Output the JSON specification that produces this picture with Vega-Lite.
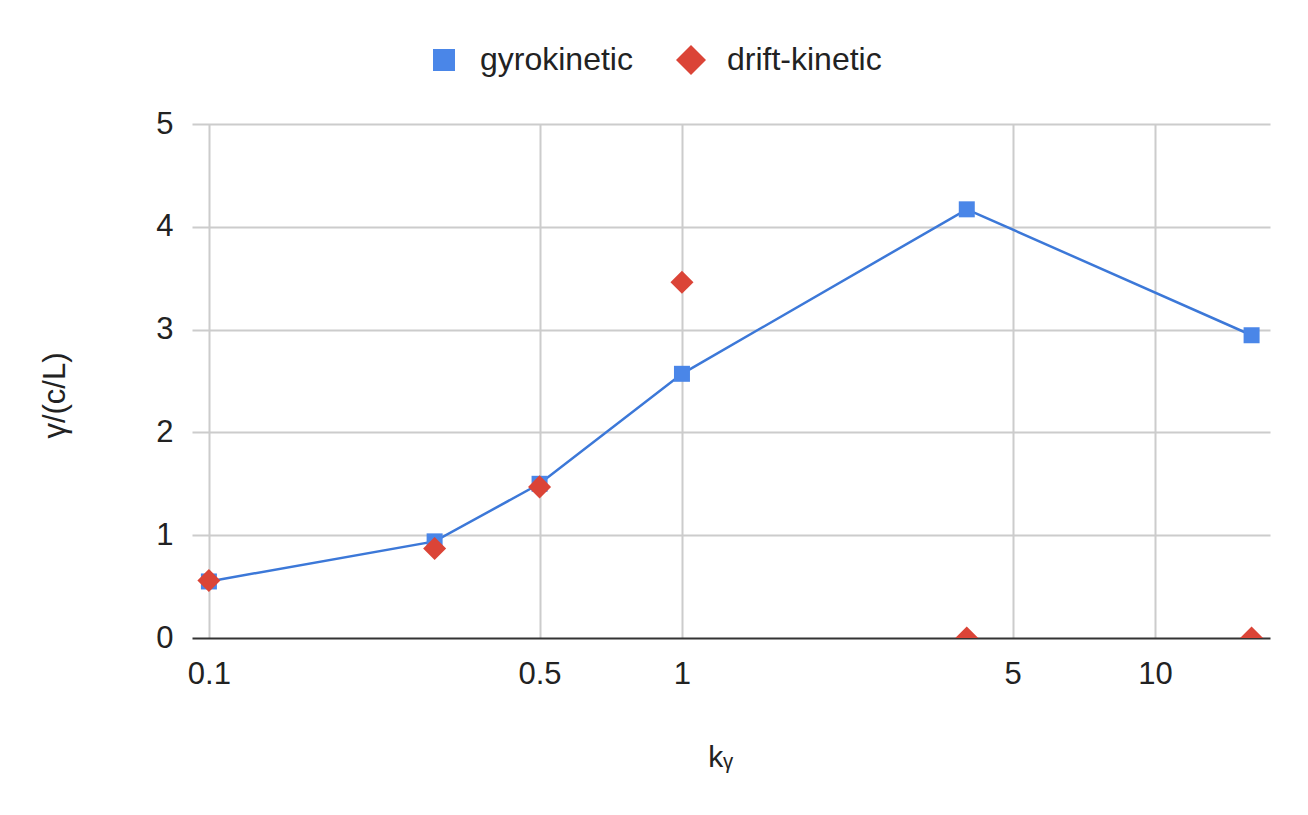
{
  "$schema": "https://vega.github.io/schema/vega-lite/v6.json",
  "autosize": {"type": "none"},
  "padding": {"left": 192, "top": 124, "right": 38, "bottom": 177},
  "width": 1078,
  "height": 514,
  "background": "white",
  "config": {
    "view": {"stroke": null},
    "font": "Liberation Sans",
    "axis": {"labelFont": "Liberation Sans", "titleFont": "Liberation Sans", "labelColor": "#222222", "titleColor": "#222222", "titleFontWeight": "normal"},
    "legend": {"labelFont": "Liberation Sans"}
  },
  "data": {
    "values": [
      {"k": 0.1, "gamma": 0.55, "model": "gyrokinetic"},
      {"k": 0.3, "gamma": 0.94, "model": "gyrokinetic"},
      {"k": 0.5, "gamma": 1.5, "model": "gyrokinetic"},
      {"k": 1, "gamma": 2.57, "model": "gyrokinetic"},
      {"k": 4, "gamma": 4.17, "model": "gyrokinetic"},
      {"k": 16, "gamma": 2.945, "model": "gyrokinetic"},
      {"k": 0.1, "gamma": 0.56, "model": "drift-kinetic"},
      {"k": 0.3, "gamma": 0.87, "model": "drift-kinetic"},
      {"k": 0.5, "gamma": 1.47, "model": "drift-kinetic"},
      {"k": 1, "gamma": 3.46, "model": "drift-kinetic"},
      {"k": 4, "gamma": 0, "model": "drift-kinetic"},
      {"k": 16, "gamma": 0, "model": "drift-kinetic"}
    ]
  },
  "encoding": {
    "x": {
      "field": "k", "type": "quantitative",
      "scale": {"type": "log", "domain": [0.0921, 17.5], "nice": false},
      "axis": {
        "values": [0.1, 0.5, 1, 5, 10],
        "format": "~g",
        "title": "kᵧ",
        "titleFontSize": 30,
        "titleX": 528,
        "titleY": 104,
        "titleBaseline": "top",
        "labelFontSize": 31,
        "labelPadding": 21,
        "labelFlush": false,
        "labelOverlap": false,
        "ticks": false,
        "domain": true,
        "domainColor": "#333333",
        "domainWidth": 2,
        "grid": true,
        "gridColor": "#cccccc",
        "gridWidth": 2
      }
    },
    "y": {
      "field": "gamma", "type": "quantitative",
      "scale": {"domain": [0, 5], "nice": false},
      "axis": {
        "values": [0, 1, 2, 3, 4, 5],
        "title": "γ/(c/L)",
        "titleFontSize": 31,
        "titleX": -121,
        "titleY": 271,
        "titleBaseline": "bottom",
        "labelFontSize": 31,
        "labelPadding": 19,
        "labelFlush": false,
        "ticks": false,
        "domain": false,
        "grid": true,
        "gridColor": {"condition": {"test": "datum.value === 0", "value": "transparent"}, "value": "#cccccc"},
        "gridWidth": 2
      }
    }
  },
  "layer": [
    {
      "transform": [{"filter": "datum.model === 'gyrokinetic'"}],
      "mark": {"type": "line", "color": "#3c78d8", "strokeWidth": 2.5}
    },
    {
      "transform": [{"filter": "datum.model === 'gyrokinetic'"}],
      "mark": {"type": "point", "filled": true, "opacity": 1, "size": 256, "clip": true},
      "encoding": {
        "shape": {"field": "model", "type": "nominal", "scale": {"domain": ["gyrokinetic", "drift-kinetic"], "range": ["square", "diamond"]}},
        "color": {"field": "model", "type": "nominal", "scale": {"domain": ["gyrokinetic", "drift-kinetic"], "range": ["#4a86e8", "#db4437"]}}
      }
    },
    {
      "transform": [{"filter": "datum.model === 'drift-kinetic'"}],
      "mark": {"type": "point", "filled": true, "opacity": 1, "size": 530, "clip": true},
      "encoding": {
        "shape": {"field": "model", "type": "nominal", "scale": {"domain": ["gyrokinetic", "drift-kinetic"], "range": ["square", "diamond"]}},
        "color": {"field": "model", "type": "nominal", "scale": {"domain": ["gyrokinetic", "drift-kinetic"], "range": ["#4a86e8", "#db4437"]}}
      }
    },
    {
      "transform": [{"filter": "datum.model === 'none'"}],
      "mark": {"type": "point", "filled": true, "opacity": 1},
      "encoding": {
        "shape": {"field": "model", "type": "nominal", "scale": {"domain": ["gyrokinetic", "drift-kinetic"], "range": ["square", "diamond"]}},
        "color": {"field": "model", "type": "nominal", "scale": {"domain": ["gyrokinetic", "drift-kinetic"], "range": ["#4a86e8", "#db4437"]},
          "legend": {
            "orient": "none", "legendX": 236, "legendY": -80, "direction": "horizontal", "title": null,
            "symbolOpacity": 1, "labelFontSize": 32, "labelColor": "#222222", "labelOffset": 20, "columnPadding": 42
          }},
        "size": {"field": "model", "type": "nominal", "scale": {"type": "ordinal", "domain": ["gyrokinetic", "drift-kinetic"], "range": [484, 900]},
          "legend": {
            "orient": "none", "legendX": 236, "legendY": -80, "direction": "horizontal", "title": null,
            "symbolOpacity": 1, "labelFontSize": 32, "labelColor": "#222222", "labelOffset": 20, "columnPadding": 42
          }}
      }
    }
  ]
}
